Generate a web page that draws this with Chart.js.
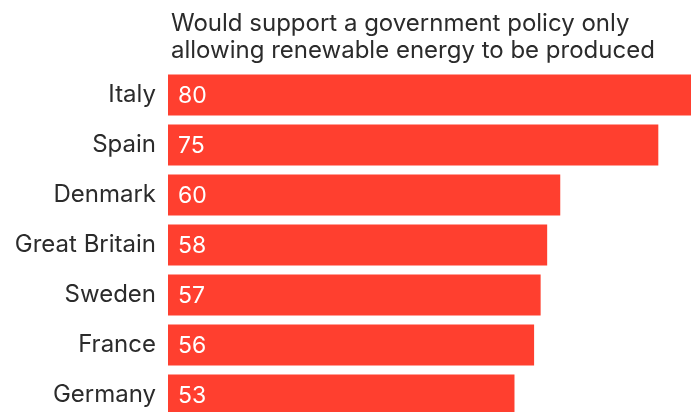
<!DOCTYPE html>
<html>
<head>
<meta charset="utf-8">
<script src="https://cdn.jsdelivr.net/npm/chart.js@4"></script>
<style>
  html, body { margin: 0; padding: 0; background: #fff; overflow: hidden; }
  #wrap { width: 691px; height: 412px; overflow: hidden; }
</style>
</head>
<body>
<div id="wrap"><canvas id="chart" width="691" height="420"></canvas></div>
<script>
// data
const countries = ["Italy", "Spain", "Denmark", "Great Britain", "Sweden", "France", "Germany"]
const support   = [80, 75, 60, 58, 57, 56, 53]
const titleLines = ["Would support a government policy only", "allowing renewable energy to be produced"]

const FONT = "Inter, 'Noto Sans', sans-serif"
const RED  = "#ff3f2f"
const INK  = "#2b2b2b"

// title drawn over the bar column, left aligned with the bars
const titlePlugin = {
    id: "titleLines",
    afterDraw(chart) {
        const { ctx, chartArea } = chart
        ctx.save()
        ctx.fillStyle = INK
        ctx.font = "24px " + FONT
        ctx.textAlign = "left"
        ctx.textBaseline = "alphabetic"
        titleLines.forEach((line, i) => ctx.fillText(line, chartArea.left + 3, 31 + i * 27))
        ctx.restore()
    }
}

// value written inside each bar, near its left end
const valuePlugin = {
    id: "values",
    afterDatasetsDraw(chart) {
        const { ctx } = chart
        const meta = chart.getDatasetMeta(0)
        ctx.save()
        ctx.fillStyle = "#ffffff"
        ctx.font = "23px " + FONT
        ctx.textAlign = "left"
        ctx.textBaseline = "middle"
        meta.data.forEach((bar, i) => {
            ctx.fillText(String(support[i]), bar.base + 10, bar.y + 1)
        })
        ctx.restore()
    }
}

new Chart(document.getElementById("chart"), {
    type: "bar",
    data: {
        labels: countries,
        datasets: [{
            data: support,
            backgroundColor: RED,
            borderWidth: 0,
            barPercentage: 0.82,
            categoryPercentage: 1
        }]
    },
    options: {
        indexAxis: "y",
        responsive: false,
        animation: false,
        devicePixelRatio: 1,
        layout: { padding: { top: 70, left: 0, right: 0, bottom: 0 } },
        plugins: { legend: { display: false }, tooltip: { enabled: false } },
        scales: {
            x: { display: false, min: 0, max: 80 },
            y: {
                grid: { display: false, drawTicks: false },
                border: { display: false },
                ticks: { color: INK, font: { family: FONT, size: 24 }, padding: 12 },
                afterFit: s => {
                    s.width = 168
                    s.paddingTop = 0
                    s.paddingBottom = 0
                }
            }
        }
    },
    plugins: [titlePlugin, valuePlugin]
})
</script>
</body>
</html>
